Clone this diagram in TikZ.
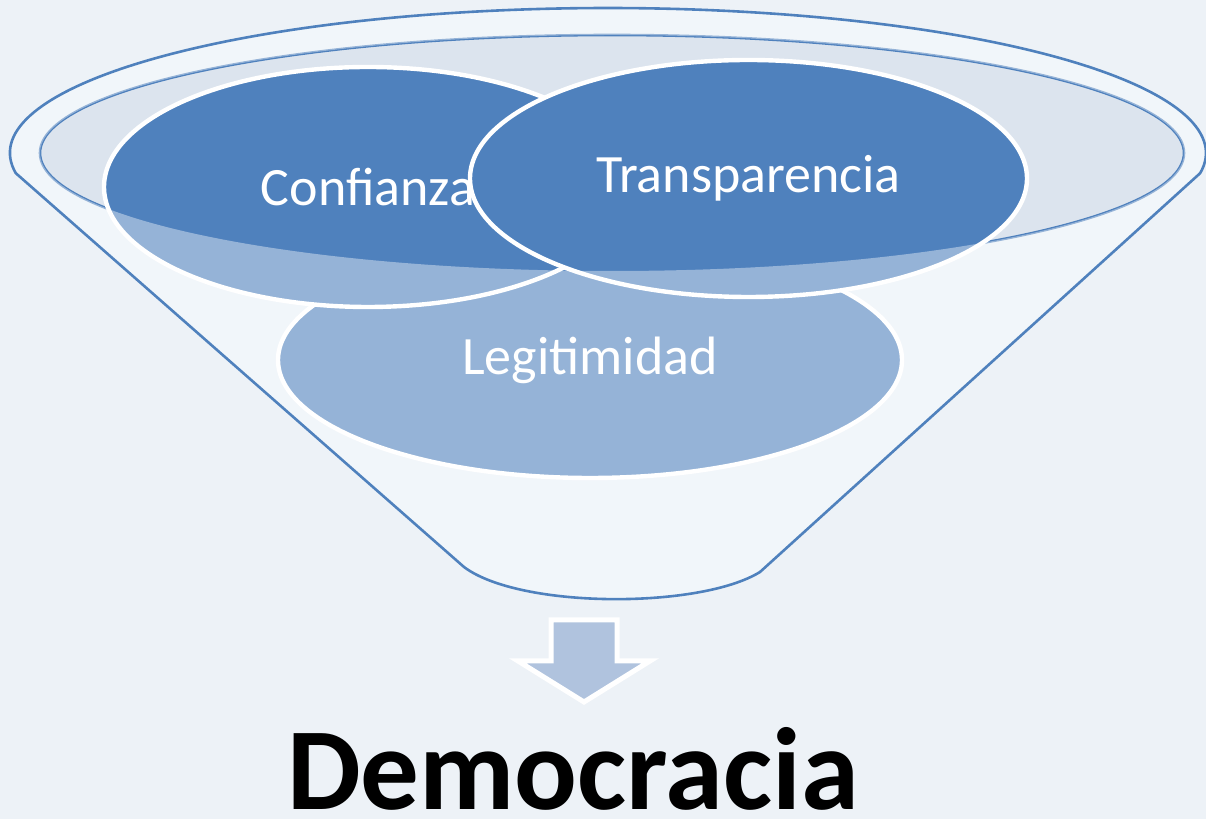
\documentclass[tikz,border=0pt]{standalone}
\usepackage{fontspec}
\setmainfont{Carlito}
\usetikzlibrary{shapes.geometric}

\definecolor{bgcol}{RGB}{237,242,247}
\definecolor{bodycol}{RGB}{233,240,247}
\definecolor{poolcol}{RGB}{220,228,238}
\definecolor{ringblue}{RGB}{79,129,189}
\definecolor{arrowcol}{RGB}{176,195,222}

% outline of the funnel: rim on top, two sides, round bottom
\newcommand{\funnelpath}{(15.8,645.8) arc[start angle=188, end angle=-8, x radius=598, y radius=145]
  -- (760,247) .. controls (700,210) and (520,210) .. (464,252) -- cycle}

\begin{document}
\begin{tikzpicture}[x=0.5pt, y=0.5pt,
  every node/.style={font=\fontsize{27pt}{32pt}\selectfont, text=white},
  blob/.style={ellipse, draw=white, line width=2.2pt, fill=ringblue, inner sep=0pt}]

\useasboundingbox (0,0) rectangle (1206,819);
\fill[bgcol] (0,0) rectangle (1206,819);

% Funnel body and the pool on top
\fill[bodycol] \funnelpath;
\filldraw[fill=poolcol, draw=ringblue, line width=1.3pt] (612,666) ellipse [x radius=572, y radius=118];

% Three ellipses in the funnel
\node[blob, minimum width=312pt, minimum height=118pt] (legit) at (590,459) {Legitimidad};
\node[blob, minimum width=264pt, minimum height=120pt] (conf) at (368,632) {Confianza};
\node[blob, minimum width=278.5pt, minimum height=118.5pt] (trans) at (748.5,640.5) {Transparencia};

% Front of the funnel, lighter below the pool
\fill[white, opacity=0.4, even odd rule] \funnelpath (612,666) ellipse [x radius=572, y radius=118];
\draw[ringblue, line width=1.3pt, line join=round] \funnelpath;

% Arrow down to the result
\filldraw[fill=arrowcol, draw=white, line width=2.5pt, line join=miter]
  (551,199) -- (617,199) -- (617,158) -- (650,158) -- (584,117) -- (518,158) -- (551,158) -- cycle;

\node[anchor=base, inner sep=1pt, text=black, font=\fontsize{58.5pt}{66pt}\selectfont\bfseries] (demo) at (573,9) {Democracia};

\end{tikzpicture}
\end{document}
